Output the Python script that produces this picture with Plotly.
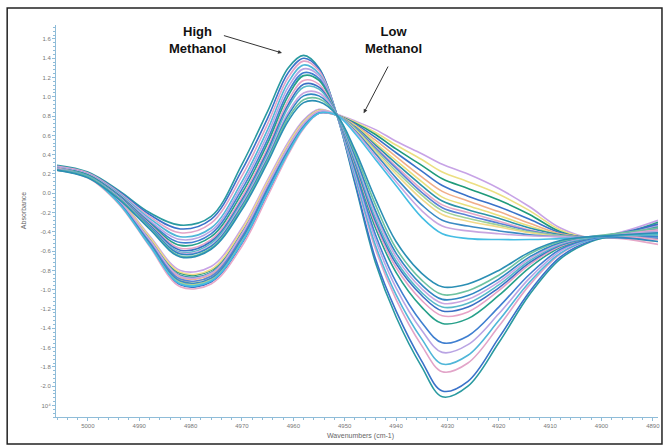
import plotly.graph_objects as go

# wavenumber grid (cm-1)
wavenumbers = [5006, 5000, 4994, 4988, 4982, 4976, 4970, 4965, 4961, 4958, 4955, 4951.5,
               4948, 4944, 4940, 4935, 4931, 4926, 4920, 4914, 4908, 4902, 4896, 4889]

# high-methanol spectra (tall peak, deep trough)
high_1 = [0.29, 0.22, 0.03, -0.20, -0.33, -0.24, 0.30, 0.85, 1.30, 1.43, 1.30, 0.81, 0.10, -0.72, -1.28, -1.80, -2.11, -2.00, -1.55, -1.05, -0.68, -0.50, -0.42, -0.35]
high_2 = [0.28, 0.21, 0.02, -0.22, -0.37, -0.27, 0.24, 0.78, 1.25, 1.40, 1.29, 0.81, 0.12, -0.68, -1.22, -1.74, -2.05, -1.95, -1.50, -1.02, -0.66, -0.49, -0.42, -0.37]
high_3 = [0.28, 0.21, 0.01, -0.24, -0.41, -0.31, 0.18, 0.72, 1.20, 1.37, 1.27, 0.81, 0.16, -0.58, -1.10, -1.58, -1.85, -1.76, -1.38, -0.95, -0.63, -0.48, -0.42, -0.38]
high_4 = [0.27, 0.20, 0.00, -0.26, -0.45, -0.36, 0.12, 0.66, 1.15, 1.33, 1.24, 0.81, 0.18, -0.54, -1.05, -1.51, -1.77, -1.68, -1.32, -0.92, -0.62, -0.48, -0.43, -0.40]
high_5 = [0.27, 0.20, -0.01, -0.28, -0.48, -0.39, 0.08, 0.61, 1.10, 1.29, 1.22, 0.81, 0.22, -0.48, -0.98, -1.42, -1.65, -1.57, -1.25, -0.88, -0.60, -0.47, -0.42, -0.33]
high_6 = [0.26, 0.19, -0.02, -0.30, -0.51, -0.42, 0.04, 0.56, 1.05, 1.25, 1.19, 0.81, 0.25, -0.43, -0.92, -1.34, -1.55, -1.48, -1.18, -0.84, -0.58, -0.47, -0.44, -0.45]
high_7 = [0.26, 0.19, -0.02, -0.31, -0.54, -0.45, 0.00, 0.52, 1.01, 1.22, 1.17, 0.81, 0.28, -0.36, -0.82, -1.18, -1.35, -1.30, -1.06, -0.77, -0.56, -0.46, -0.42, -0.30]
high_8 = [0.26, 0.18, -0.03, -0.32, -0.57, -0.48, -0.04, 0.47, 0.96, 1.17, 1.13, 0.81, 0.30, -0.32, -0.77, -1.11, -1.27, -1.23, -1.01, -0.74, -0.55, -0.46, -0.45, -0.48]
high_9 = [0.25, 0.18, -0.03, -0.33, -0.59, -0.50, -0.07, 0.44, 0.92, 1.13, 1.10, 0.81, 0.32, -0.29, -0.73, -1.06, -1.22, -1.18, -0.98, -0.72, -0.54, -0.46, -0.41, -0.32]
high_10 = [0.25, 0.18, -0.04, -0.34, -0.61, -0.52, -0.09, 0.41, 0.89, 1.10, 1.08, 0.81, 0.34, -0.26, -0.70, -1.03, -1.18, -1.14, -0.95, -0.70, -0.53, -0.46, -0.44, -0.43]
high_11 = [0.25, 0.17, -0.04, -0.35, -0.62, -0.54, -0.11, 0.38, 0.84, 1.04, 1.04, 0.81, 0.37, -0.22, -0.66, -0.99, -1.14, -1.10, -0.92, -0.68, -0.52, -0.45, -0.42, -0.40]
high_12 = [0.24, 0.17, -0.05, -0.35, -0.63, -0.55, -0.13, 0.36, 0.81, 1.01, 1.01, 0.81, 0.39, -0.18, -0.62, -0.95, -1.10, -1.06, -0.89, -0.66, -0.51, -0.45, -0.46, -0.50]
high_13 = [0.24, 0.17, -0.05, -0.36, -0.65, -0.57, -0.15, 0.34, 0.78, 0.97, 0.98, 0.81, 0.42, -0.12, -0.57, -0.90, -1.05, -1.01, -0.85, -0.63, -0.50, -0.45, -0.41, -0.36]
high_14 = [0.24, 0.16, -0.06, -0.37, -0.66, -0.58, -0.17, 0.32, 0.75, 0.94, 0.95, 0.81, 0.45, -0.06, -0.50, -0.83, -0.97, -0.94, -0.80, -0.61, -0.49, -0.45, -0.43, -0.41]

# low-methanol spectra (flat peak, shoulder)
low_1 = [0.27, 0.19, -0.05, -0.44, -0.80, -0.76, -0.36, 0.14, 0.53, 0.76, 0.87, 0.82, 0.75, 0.66, 0.54, 0.41, 0.30, 0.20, 0.05, -0.14, -0.36, -0.46, -0.40, -0.28]
low_2 = [0.26, 0.18, -0.08, -0.50, -0.90, -0.86, -0.45, 0.05, 0.46, 0.71, 0.84, 0.81, 0.74, 0.63, 0.50, 0.35, 0.22, 0.12, -0.01, -0.18, -0.38, -0.46, -0.42, -0.34]
low_3 = [0.27, 0.19, -0.06, -0.46, -0.83, -0.80, -0.40, 0.10, 0.50, 0.74, 0.86, 0.81, 0.73, 0.61, 0.46, 0.29, 0.15, 0.05, -0.07, -0.22, -0.40, -0.47, -0.44, -0.39]
low_4 = [0.25, 0.17, -0.10, -0.53, -0.95, -0.92, -0.52, 0.00, 0.42, 0.68, 0.83, 0.81, 0.72, 0.58, 0.42, 0.23, 0.08, -0.03, -0.14, -0.27, -0.41, -0.46, -0.45, -0.45]
low_5 = [0.26, 0.18, -0.07, -0.48, -0.87, -0.84, -0.43, 0.08, 0.48, 0.72, 0.85, 0.81, 0.71, 0.55, 0.38, 0.17, 0.02, -0.08, -0.19, -0.31, -0.42, -0.46, -0.43, -0.36]
low_6 = [0.25, 0.17, -0.09, -0.52, -0.92, -0.89, -0.48, 0.03, 0.44, 0.69, 0.84, 0.81, 0.70, 0.52, 0.34, 0.12, -0.04, -0.13, -0.23, -0.34, -0.43, -0.46, -0.46, -0.50]
low_7 = [0.26, 0.18, -0.07, -0.47, -0.85, -0.82, -0.41, 0.10, 0.49, 0.73, 0.85, 0.81, 0.69, 0.50, 0.31, 0.08, -0.08, -0.17, -0.26, -0.36, -0.43, -0.46, -0.44, -0.42]
low_8 = [0.24, 0.16, -0.11, -0.55, -0.97, -0.94, -0.55, -0.03, 0.40, 0.67, 0.83, 0.81, 0.68, 0.48, 0.28, 0.04, -0.12, -0.20, -0.29, -0.38, -0.44, -0.46, -0.47, -0.53]
low_9 = [0.26, 0.18, -0.08, -0.49, -0.89, -0.86, -0.45, 0.06, 0.46, 0.71, 0.84, 0.81, 0.68, 0.47, 0.26, 0.01, -0.15, -0.23, -0.31, -0.39, -0.44, -0.46, -0.43, -0.33]
low_10 = [0.25, 0.17, -0.10, -0.53, -0.93, -0.90, -0.50, 0.02, 0.43, 0.69, 0.84, 0.81, 0.67, 0.45, 0.23, -0.02, -0.18, -0.26, -0.33, -0.40, -0.44, -0.46, -0.45, -0.44]
low_11 = [0.27, 0.19, -0.06, -0.45, -0.82, -0.79, -0.38, 0.12, 0.51, 0.74, 0.86, 0.81, 0.66, 0.43, 0.20, -0.06, -0.22, -0.29, -0.35, -0.41, -0.45, -0.46, -0.42, -0.31]
low_12 = [0.25, 0.17, -0.09, -0.51, -0.91, -0.88, -0.47, 0.04, 0.45, 0.70, 0.84, 0.81, 0.65, 0.41, 0.16, -0.12, -0.28, -0.34, -0.39, -0.43, -0.45, -0.46, -0.46, -0.47]
low_13 = [0.26, 0.18, -0.07, -0.48, -0.86, -0.83, -0.42, 0.09, 0.48, 0.72, 0.85, 0.81, 0.64, 0.38, 0.12, -0.18, -0.34, -0.39, -0.42, -0.44, -0.45, -0.46, -0.44, -0.38]
low_14 = [0.25, 0.17, -0.10, -0.54, -0.94, -0.91, -0.51, 0.01, 0.42, 0.68, 0.83, 0.81, 0.62, 0.35, 0.08, -0.25, -0.42, -0.47, -0.48, -0.48, -0.47, -0.46, -0.45, -0.42]

y_tick_values = [-2.2, -2.0, -1.8, -1.6, -1.4, -1.2, -1.0, -0.8, -0.6, -0.4, -0.2, 0.0,
                 0.2, 0.4, 0.6, 0.8, 1.0, 1.2, 1.4, 1.6]
y_tick_labels = ["10⁴", "-2.0", "-1.8", "-1.6", "-1.4", "-1.2", "-1.0", "-0.8", "-0.6", "-0.4",
                 "-0.2", "0.0", "0.2", "0.4", "0.6", "0.8", "1.0", "1.2", "1.4", "1.6"]
x_tick_values = [5000, 4990, 4980, 4970, 4960, 4950, 4940, 4930, 4920, 4910, 4900, 4890]
x_tick_labels = [str(v) for v in x_tick_values]

high_series = [high_1, high_2, high_3, high_4, high_5, high_6, high_7,
               high_8, high_9, high_10, high_11, high_12, high_13, high_14]
low_series = [low_1, low_2, low_3, low_4, low_5, low_6, low_7,
              low_8, low_9, low_10, low_11, low_12, low_13, low_14]

high_colors = ['#2a9aa0', '#3a72c9', '#e2a4c8', '#4fb6d8', '#b9a4e3', '#3f7fd0', '#26a08a',
               '#e8a3c6', '#3a6fc4', '#58b9c9', '#c9a6e0', '#2f86c2', '#6fc2a0', '#2b8fb4']
low_colors = ['#c7a3e6', '#ecdf82', '#1f9a7a', '#3a72c9', '#f0ae8a', '#e9df7c', '#2a93a8',
              '#e6a8c8', '#5a82d8', '#9fd19a', '#f1d98a', '#3b8ac4', '#c9a6e0', '#45bde3']

fig = go.Figure()
for vals, col in zip(low_series, low_colors):
    fig.add_trace(go.Scatter(x=wavenumbers, y=vals, mode='lines',
                             line=dict(color=col, width=1.6, shape='spline', smoothing=1.0),
                             showlegend=False, hoverinfo='skip'))
for vals, col in zip(high_series, high_colors):
    fig.add_trace(go.Scatter(x=wavenumbers, y=vals, mode='lines',
                             line=dict(color=col, width=1.6, shape='spline', smoothing=1.0),
                             showlegend=False, hoverinfo='skip'))

axis_col = '#8fbcd8'
fig.update_layout(
    width=668, height=445,
    margin=dict(l=56, r=8, t=25, b=28),
    paper_bgcolor='white', plot_bgcolor='white',
    font=dict(family='Liberation Sans, Arial, sans-serif'),
    xaxis=dict(range=[5006.2, 4889.0], tickvals=x_tick_values, ticktext=x_tick_labels,
               showgrid=False, zeroline=False, showline=True, linecolor=axis_col, linewidth=1,
               ticks='outside', ticklen=3, tickcolor=axis_col,
               tickfont=dict(size=6, color='#777777'),
               minor=dict(dtick=2, ticks='outside', ticklen=2, tickcolor=axis_col)),
    yaxis=dict(range=[-2.32, 1.745], tickvals=y_tick_values, ticktext=y_tick_labels,
               showgrid=False, zeroline=False, showline=True, linecolor=axis_col, linewidth=1,
               ticks='outside', ticklen=3, tickcolor=axis_col,
               tickfont=dict(size=6, color='#777777'),
               minor=dict(dtick=0.04, ticks='outside', ticklen=2, tickcolor=axis_col)),
)

# text labels
fig.add_annotation(x=4978.7, y=1.59, xref='x', yref='y', showarrow=False,
                   text='<b>High</b><br><b>Methanol</b>',
                   font=dict(size=13, color='#111111', family='Liberation Sans, Arial, sans-serif'))
fig.add_annotation(x=4940.5, y=1.59, xref='x', yref='y', showarrow=False,
                   text='<b>Low</b><br><b>Methanol</b>',
                   font=dict(size=13, color='#111111', family='Liberation Sans, Arial, sans-serif'))
# arrows
fig.add_annotation(x=4962.2, y=1.455, ax=4973.8, ay=1.64, xref='x', yref='y',
                   axref='x', ayref='y', text='', showarrow=True,
                   arrowhead=2, arrowsize=0.8, arrowwidth=1, arrowcolor='#333333')
fig.add_annotation(x=4946.3, y=0.83, ax=4941.4, ay=1.33, xref='x', yref='y',
                   axref='x', ayref='y', text='', showarrow=True,
                   arrowhead=2, arrowsize=0.8, arrowwidth=1, arrowcolor='#333333')

# axis titles
fig.add_annotation(x=-0.0546, y=0.5255, xref='paper', yref='paper', showarrow=False,
                   xanchor='center', yanchor='middle',
                   text='Absorbance', textangle=-90, font=dict(size=7, color='#666666'))
fig.add_annotation(x=0.5066, y=-0.049, xref='paper', yref='paper', showarrow=False,
                   xanchor='center', yanchor='middle',
                   text='Wavenumbers (cm-1)', font=dict(size=7, color='#666666'))

# outer frame
fig.add_shape(type='rect', xref='paper', yref='paper',
              x0=-0.0811, x1=1.0066, y0=-0.069, y1=1.0434,
              line=dict(color='#222222', width=1.5), fillcolor='rgba(0,0,0,0)')

fig.write_html('out.html')
